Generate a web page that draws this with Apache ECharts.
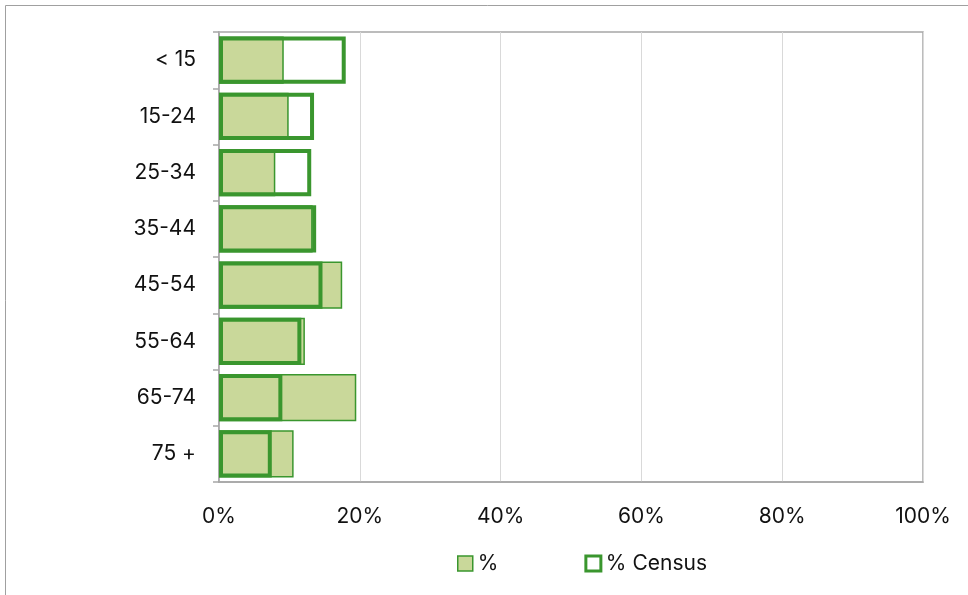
<!DOCTYPE html>
<html><head><meta charset="utf-8">
<script src="https://cdn.jsdelivr.net/npm/echarts@6/dist/echarts.min.js"></script>
<style>html,body{margin:0;padding:0;background:#fff}#c{width:968px;height:595px}</style>
</head><body><div id="c"></div>
<script>
const categories = ['< 15','15-24','25-34','35-44','45-54','55-64','65-74','75 +'];
const pctValues = [9.2, 9.9, 8.0, 13.3, 17.5, 12.2, 19.5, 10.6];
const censusValues = [18.0, 13.5, 13.1, 13.8, 14.7, 11.7, 9.0, 7.5];
const xTicks = [0, 20, 40, 60, 80, 100];

const green = '#3a962e';
const fillGreen = '#c9d89a';
const font = 'Inter, Roboto, "Liberation Sans", sans-serif';

const chart = echarts.init(document.getElementById('c'));
chart.setOption({
  animation: false,
  textStyle: {fontFamily: font},
  graphic: [{type:'rect', shape:{x:5.5,y:5.5,width:1000,height:700}, style:{fill:'none', stroke:'#a0a0a0', lineWidth:1}, silent:true}],
  grid: {left:219, right:45, top:32, bottom:113, show:true, borderColor:'#a6a6a6', borderWidth:1.5},
  legend: {
    bottom: 16, left: 452, itemGap: 86, itemWidth: 15, itemHeight: 15,
    textStyle: {fontSize: 21, color: '#111', fontFamily: font},
    data: [
      {name:'%', icon:'rect', itemStyle:{color:fillGreen, borderColor:green, borderWidth:1.5}},
      {name:'% Census', icon:'rect', itemStyle:{color:'#fff', borderColor:green, borderWidth:3}}
    ]
  },
  xAxis: {
    type:'value', min: xTicks[0], max: xTicks[xTicks.length-1], interval: 20,
    axisLabel: {formatter: '{value}%', fontSize: 21, color:'#111', margin: 24},
    axisLine: {show:true, lineStyle:{color:'#a6a6a6', width:1.5}},
    axisTick: {show:false},
    splitLine: {show:true, lineStyle:{color:'#d9d9d9', width:1}}
  },
  yAxis: {
    type:'category', data: categories, inverse: true,
    axisLabel: {fontSize: 21, color:'#111', margin: 23},
    axisLine: {show:true, lineStyle:{color:'#a6a6a6', width:1.5}},
    axisTick: {show:true, length:6, lineStyle:{color:'#a6a6a6', width:1.5}}
  },
  series: [
    {name:'%', type:'bar', data: pctValues, barWidth:'84%', barGap:'-100%',
     itemStyle:{color: fillGreen, borderColor: green, borderWidth: 1.5}, z: 2},
    {name:'% Census', type:'bar', data: censusValues, barWidth:'84%', barGap:'-100%',
     itemStyle:{color:'rgba(0,0,0,0)', borderColor: green, borderWidth: 4}, z: 3}
  ]
});
</script></body></html>
